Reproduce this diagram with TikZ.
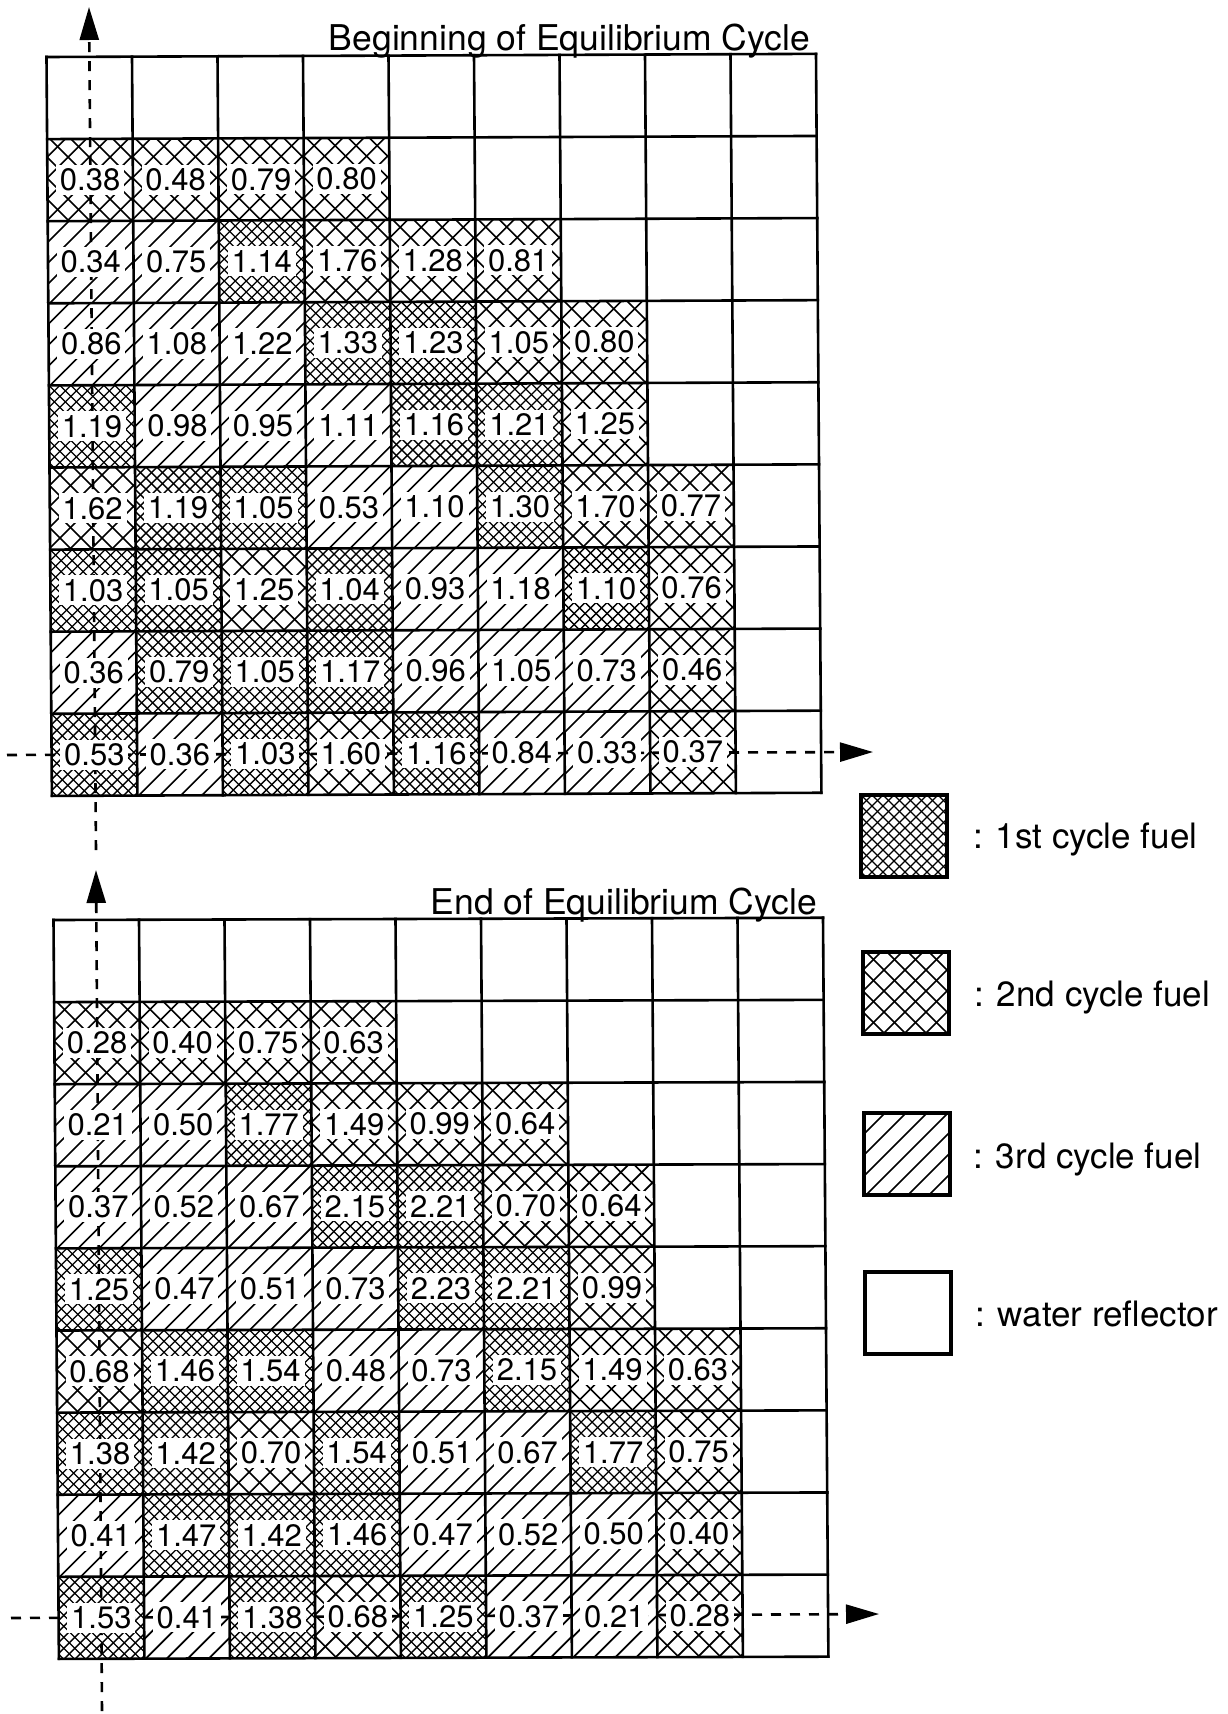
\documentclass[tikz,border=0pt]{standalone}
\usepackage{fontspec}
\setmainfont{TeX Gyre Heros}
\usetikzlibrary{arrows.meta}
\tikzset{
  gridline/.style={line width=2.6pt,line cap=rect},
  hatchfine/.style={line width=1.3pt},
  hatchwide/.style={line width=1.6pt},
  axisline/.style={line width=2.6pt,dash pattern=on 10pt off 9pt,-{Triangle[length=33pt,width=19pt]}},
  axisplain/.style={line width=2.6pt,dash pattern=on 10pt off 9pt},
  value/.style={fill=white,inner sep=0pt,minimum width=68pt,minimum height=30pt,font=\fontsize{31}{33}\selectfont},
  titletext/.style={anchor=base east,inner sep=0pt,font=\fontsize{35.5}{38}\selectfont},
  legendtext/.style={anchor=base west,inner sep=0pt,font=\fontsize{35}{38}\selectfont},
  legendbox/.style={draw,line width=4pt,minimum width=86pt,minimum height=82pt,inner sep=0pt}
}
\newcommand\hatchcell[3]{%
  \begin{scope}
    \clip (#1,#2) -- (#1+1,#2) -- (#1+1,#2+1) -- (#1,#2+1) -- cycle;
    \coordinate (hatchorigin) at (#1,#2);
    \begin{scope}[shift={(hatchorigin)},x=1pt,y=1pt]
      \ifcase#3\relax
      \or
        \foreach \s in {-99,-88,...,198} {
          \draw[hatchfine] (\s,0) -- ++(100,-100);
          \draw[hatchfine] (\s,0) -- ++(-100,-100);
        }
      \or
        \foreach \s in {-84,-63,...,189} {
          \draw[hatchwide] (\s,3) -- ++(100,-100);
          \draw[hatchwide] (\s,3) -- ++(-100,-100);
        }
      \or
        \foreach \s in {-84,-63,...,189} {
          \draw[hatchwide] (\s,0) -- ++(-100,-100);
        }
      \fi
    \end{scope}
  \end{scope}%
}
\begin{document}
\begin{tikzpicture}[x=1pt,y=1pt]
\path[use as bounding box,fill=white] (0,0) rectangle (1228,-1714);

% ---------- upper core ----------
\begin{scope}[shift={(46.5,-57)},x={(85.5pt,0.35pt)},y={(0.6pt,-82.1pt)}]
  \foreach \r/\row in {
    1/{2/0.38,2/0.48,2/0.79,2/0.80},
    2/{3/0.34,3/0.75,1/1.14,2/1.76,2/1.28,2/0.81},
    3/{3/0.86,3/1.08,3/1.22,1/1.33,1/1.23,2/1.05,2/0.80},
    4/{1/1.19,3/0.98,3/0.95,3/1.11,1/1.16,1/1.21,2/1.25},
    5/{2/1.62,1/1.19,1/1.05,3/0.53,3/1.10,1/1.30,2/1.70,2/0.77},
    6/{1/1.03,1/1.05,2/1.25,1/1.04,3/0.93,3/1.18,1/1.10,2/0.76},
    7/{3/0.36,1/0.79,1/1.05,1/1.17,3/0.96,3/1.05,3/0.73,2/0.46},
    8/{1/0.53,3/0.36,1/1.03,2/1.60,1/1.16,3/0.84,3/0.33,2/0.37}} {
    \foreach \t/\v [count=\ci from 0] in \row {
      \hatchcell{\ci}{\r}{\t}
    }
  }
  \foreach \i in {0,...,9} {
    \draw[gridline] (\i,0) -- (\i,9);
    \draw[gridline] (0,\i) -- (9,\i);
  }
\end{scope}
\coordinate (ayfrom) at (96,-850);
\coordinate (ayto) at (89,-7);
\coordinate (axfrom) at (7,-755);
\coordinate (axto) at (873,-752);
\draw[axisline] (ayfrom) -- (ayto);
\draw[axisline] (axfrom) -- (axto);
\begin{scope}[shift={(46.5,-57)},x={(85.5pt,0.35pt)},y={(0.6pt,-82.1pt)}]
  \foreach \r/\row in {
    1/{2/0.38,2/0.48,2/0.79,2/0.80},
    2/{3/0.34,3/0.75,1/1.14,2/1.76,2/1.28,2/0.81},
    3/{3/0.86,3/1.08,3/1.22,1/1.33,1/1.23,2/1.05,2/0.80},
    4/{1/1.19,3/0.98,3/0.95,3/1.11,1/1.16,1/1.21,2/1.25},
    5/{2/1.62,1/1.19,1/1.05,3/0.53,3/1.10,1/1.30,2/1.70,2/0.77},
    6/{1/1.03,1/1.05,2/1.25,1/1.04,3/0.93,3/1.18,1/1.10,2/0.76},
    7/{3/0.36,1/0.79,1/1.05,1/1.17,3/0.96,3/1.05,3/0.73,2/0.46},
    8/{1/0.53,3/0.36,1/1.03,2/1.60,1/1.16,3/0.84,3/0.33,2/0.37}} {
    \foreach \t/\v [count=\ci from 0] in \row {
      \node[value] (A-\r-\ci) at (\ci+.5,\r+.5) {\v};
    }
  }
\end{scope}
\node[titletext] (titleA) at (810,-50) {Beginning of Equilibrium Cycle};

% ---------- lower core ----------
\begin{scope}[shift={(53.5,-920)},x={(85.5pt,0.25pt)},y={(0.6pt,-82.1pt)}]
  \foreach \r/\row in {
    1/{2/0.28,2/0.40,2/0.75,2/0.63},
    2/{3/0.21,3/0.50,1/1.77,2/1.49,2/0.99,2/0.64},
    3/{3/0.37,3/0.52,3/0.67,1/2.15,1/2.21,2/0.70,2/0.64},
    4/{1/1.25,3/0.47,3/0.51,3/0.73,1/2.23,1/2.21,2/0.99},
    5/{2/0.68,1/1.46,1/1.54,3/0.48,3/0.73,1/2.15,2/1.49,2/0.63},
    6/{1/1.38,1/1.42,2/0.70,1/1.54,3/0.51,3/0.67,1/1.77,2/0.75},
    7/{3/0.41,1/1.47,1/1.42,1/1.46,3/0.47,3/0.52,3/0.50,2/0.40},
    8/{1/1.53,3/0.41,1/1.38,2/0.68,1/1.25,3/0.37,3/0.21,2/0.28}} {
    \foreach \t/\v [count=\ci from 0] in \row {
      \hatchcell{\ci}{\r}{\t}
    }
  }
  \foreach \i in {0,...,9} {
    \draw[gridline] (\i,0) -- (\i,9);
    \draw[gridline] (0,\i) -- (9,\i);
  }
\end{scope}
\coordinate (byfrom) at (102,-1711);
\coordinate (byto) at (96,-870);
\coordinate (bxfrom) at (11,-1618);
\coordinate (bxto) at (879,-1614);
\draw[axisline] (byfrom) -- (byto);
\draw[axisline] (bxfrom) -- (bxto);
\begin{scope}[shift={(53.5,-920)},x={(85.5pt,0.25pt)},y={(0.6pt,-82.1pt)}]
  \foreach \r/\row in {
    1/{2/0.28,2/0.40,2/0.75,2/0.63},
    2/{3/0.21,3/0.50,1/1.77,2/1.49,2/0.99,2/0.64},
    3/{3/0.37,3/0.52,3/0.67,1/2.15,1/2.21,2/0.70,2/0.64},
    4/{1/1.25,3/0.47,3/0.51,3/0.73,1/2.23,1/2.21,2/0.99},
    5/{2/0.68,1/1.46,1/1.54,3/0.48,3/0.73,1/2.15,2/1.49,2/0.63},
    6/{1/1.38,1/1.42,2/0.70,1/1.54,3/0.51,3/0.67,1/1.77,2/0.75},
    7/{3/0.41,1/1.47,1/1.42,1/1.46,3/0.47,3/0.52,3/0.50,2/0.40},
    8/{1/1.53,3/0.41,1/1.38,2/0.68,1/1.25,3/0.37,3/0.21,2/0.28}} {
    \foreach \t/\v [count=\ci from 0] in \row {
      \node[value] (B-\r-\ci) at (\ci+.5,\r+.5) {\v};
    }
  }
\end{scope}
\node[titletext] (titleB) at (817,-914) {End of Equilibrium Cycle};

% ---------- legend ----------
\begin{scope}[shift={(861,-795)},x=86pt,y=-82pt]\hatchcell{0}{0}{1}\end{scope}
\node[legendbox] (L1) at (904,-836) {};
\node[legendtext] (T1) at (973,-848) {: 1st cycle fuel};
\begin{scope}[shift={(863,-952)},x=86pt,y=-82pt]\hatchcell{0}{0}{2}\end{scope}
\node[legendbox] (L2) at (906,-993) {};
\node[legendtext] (T2) at (974,-1006) {: 2nd cycle fuel};
\begin{scope}[shift={(864,-1113)},x=86pt,y=-82pt]\hatchcell{0}{0}{3}\end{scope}
\node[legendbox] (L3) at (907,-1154) {};
\node[legendtext] (T3) at (973,-1168) {: 3rd cycle fuel};
\node[legendbox] (L4) at (908,-1313) {};
\node[legendtext] (T4) at (975,-1326) {: water reflector};
\end{tikzpicture}
\end{document}
